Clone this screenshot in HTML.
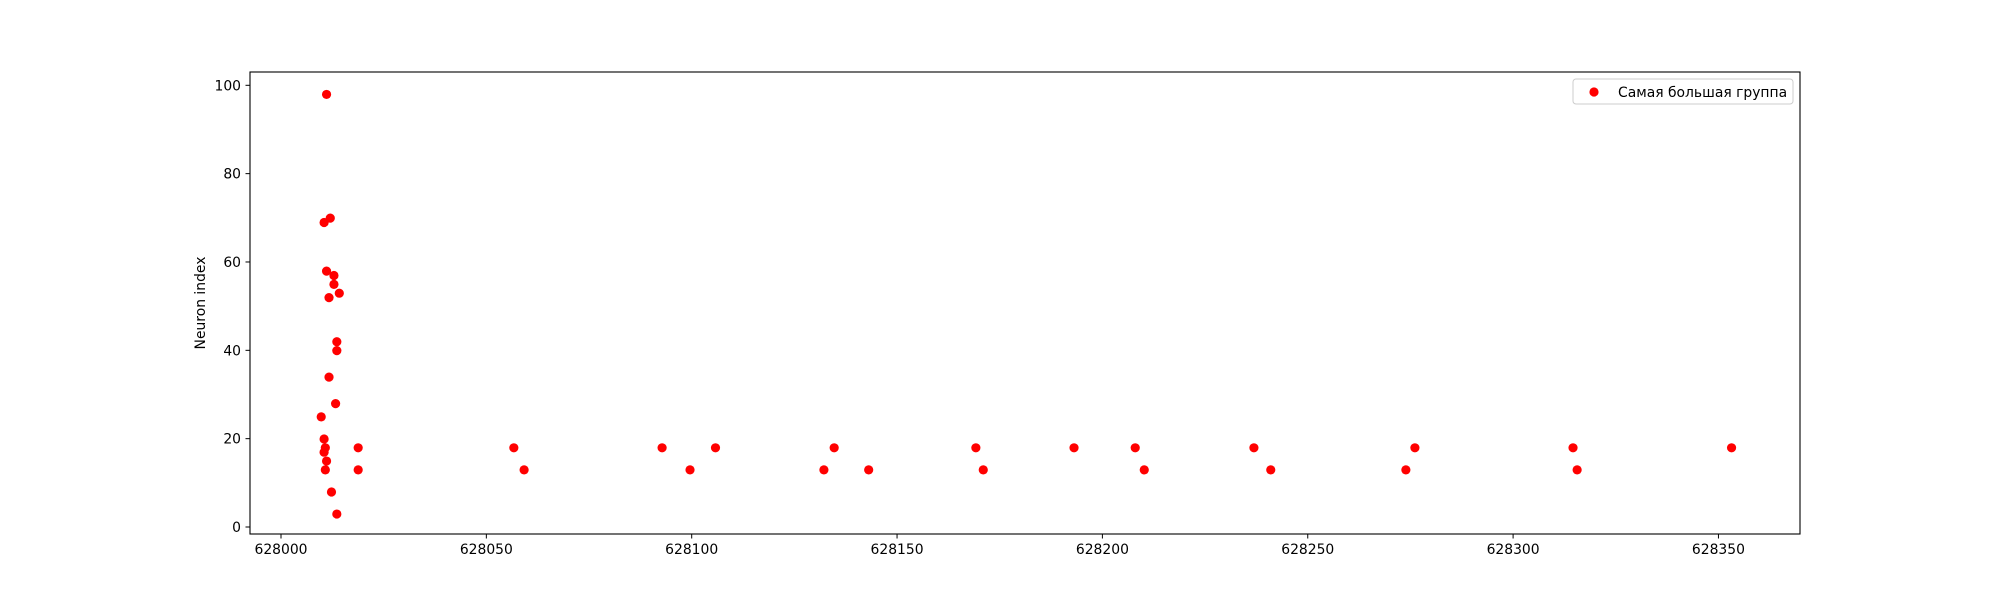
<!DOCTYPE html>
<html><head><meta charset="utf-8"><style>body{margin:0;background:#fff}svg text{font-family:"DejaVu Sans","Liberation Sans",sans-serif;font-size:13.9px;fill:#000}</style></head>
<body>
<svg id="chart" width="2000" height="600" xmlns="http://www.w3.org/2000/svg">
<rect x="250" y="72" width="1550" height="462" fill="#fff" stroke="#000" stroke-width="1.1"/>
<g id="marks"></g><g id="axes"></g>
<text transform="translate(205,303) rotate(-90)" text-anchor="middle">Neuron index</text>
<g>
<rect x="1573" y="79" width="220" height="25" rx="3" fill="#fff" stroke="#ccc"/>
<circle cx="1594" cy="92" r="4.6" fill="#ff0000"/>
<text x="1618" y="97">Самая большая группа</text>
</g>
</svg>
<script>
const xOffsets=[10.8,10.2,11.7,10.8,12.6,12.6,13.9,11.4,13.3,13.3,11.4,13.0,9.5,10.2,10.5,10.2,10.8,10.5,12.0,13.3,18.5,18.5,56.4,58.9,92.5,99.3,105.5,131.9,134.4,142.8,168.9,170.7,192.8,207.7,209.9,236.6,240.7,273.6,275.8,314.3,315.3,352.9];
const yValues=[98,69,70,58,57,55,53,52,42,40,34,28,25,20,18,17,15,13,8,3,18,13,18,13,18,13,18,13,18,13,18,13,18,18,13,18,13,13,18,18,13,18];
const xTicks=[628000,628050,628100,628150,628200,628250,628300,628350];
const yTicks=[0,20,40,60,80,100];
const xBase=628000;
const X=v=>281+(v-xBase)*4.107;
const Y=v=>526-v*4.417;
const NS='http://www.w3.org/2000/svg';
const m=document.getElementById('marks'),a=document.getElementById('axes');
xOffsets.forEach((o,i)=>{const c=document.createElementNS(NS,'circle');


c.setAttribute('cx',X(xBase+o)+1.2);c.setAttribute('cy',Y(yValues[i])+1.3);c.setAttribute('r',4.6);c.setAttribute('fill','#ff0000');m.appendChild(c);});
xTicks.forEach(t=>{const x=X(t);const l=document.createElementNS(NS,'line');


l.setAttribute('x1',x);l.setAttribute('x2',x);l.setAttribute('y1',534);l.setAttribute('y2',538.5);l.setAttribute('stroke','#000');a.appendChild(l);
const s=document.createElementNS(NS,'text');


s.setAttribute('x',x);s.setAttribute('y',554);s.setAttribute('text-anchor','middle');s.textContent=t;a.appendChild(s);});
yTicks.forEach(t=>{const y=Y(t)+1;const l=document.createElementNS(NS,'line');


l.setAttribute('x1',245.5);l.setAttribute('x2',250);l.setAttribute('y1',y);l.setAttribute('y2',y);l.setAttribute('stroke','#000');a.appendChild(l);
const s=document.createElementNS(NS,'text');


s.setAttribute('x',241);s.setAttribute('y',y+5);s.setAttribute('text-anchor','end');s.textContent=t;a.appendChild(s);});
</script>
</body></html>
